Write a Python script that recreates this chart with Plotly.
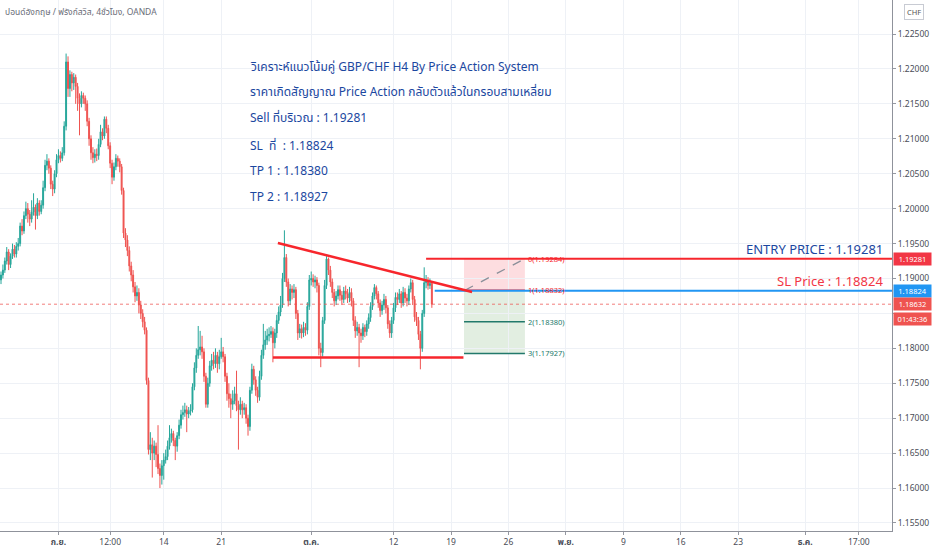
import plotly.graph_objects as go

# ---------------- data ----------------
opens = [
    1.1898, 1.1905, 1.1912, 1.1925, 1.1938, 1.1920, 1.1932, 1.1942, 1.1935, 1.1946,
    1.1950, 1.1975, 1.1968, 1.1990, 1.2000, 1.1992, 1.1985, 1.1995, 1.2002, 1.1990,
    1.2008, 1.1996, 1.2005, 1.2030, 1.2062, 1.2068, 1.2058, 1.2035, 1.2028, 1.2050,
    1.2070, 1.2076, 1.2072, 1.2080, 1.2118, 1.2210, 1.2172, 1.2192, 1.2180, 1.2188,
    1.2175, 1.2158, 1.2150, 1.2162, 1.2158, 1.2150, 1.2125, 1.2100, 1.2080, 1.2073,
    1.2078, 1.2076, 1.2092, 1.2110, 1.2104, 1.2128, 1.2115, 1.2090, 1.2065, 1.2045,
    1.2060, 1.2072, 1.2068, 1.2060, 1.2026, 1.1965, 1.1955, 1.1940, 1.1918, 1.1905,
    1.1888, 1.1875, 1.1880, 1.1862, 1.1850, 1.1838, 1.1826, 1.1754, 1.1655, 1.1662,
    1.1650, 1.1660, 1.1648, 1.1628, 1.1618, 1.1632, 1.1640, 1.1645, 1.1660, 1.1672,
    1.1678, 1.1668, 1.1660, 1.1675, 1.1690, 1.1705, 1.1708, 1.1712, 1.1706, 1.1710,
    1.1712, 1.1745, 1.1772, 1.1790, 1.1798, 1.1802, 1.1795, 1.1760, 1.1720, 1.1750,
    1.1775, 1.1783, 1.1778, 1.1790, 1.1778, 1.1788, 1.1795, 1.1788, 1.1760, 1.1735,
    1.1728, 1.1720, 1.1725, 1.1735, 1.1718, 1.1712, 1.1720, 1.1712, 1.1715, 1.1700,
    1.1688, 1.1740, 1.1770, 1.1755, 1.1740, 1.1730, 1.1760, 1.1790, 1.1805, 1.1812,
    1.1818, 1.1820, 1.1824, 1.1808, 1.1822, 1.1840, 1.1852, 1.1862, 1.1900, 1.1930,
    1.1895, 1.1868, 1.1885, 1.1880, 1.1884, 1.1850, 1.1822, 1.1828, 1.1822, 1.1830,
    1.1826, 1.1860, 1.1898, 1.1900, 1.1895, 1.1898, 1.1890, 1.1800, 1.1794, 1.1840,
    1.1890, 1.1928, 1.1912, 1.1895, 1.1880, 1.1868, 1.1875, 1.1884, 1.1876, 1.1870,
    1.1882, 1.1878, 1.1872, 1.1880, 1.1868, 1.1840, 1.1825, 1.1830, 1.1822, 1.1818,
    1.1830, 1.1824, 1.1835, 1.1844, 1.1860, 1.1875, 1.1887, 1.1878, 1.1865, 1.1854,
    1.1862, 1.1870, 1.1858, 1.1835, 1.1822, 1.1840, 1.1858, 1.1873, 1.1870, 1.1878,
    1.1865, 1.1880, 1.1872, 1.1868, 1.1885, 1.1894, 1.1870, 1.1845, 1.1840, 1.1820,
    1.1800, 1.1850, 1.1894, 1.1897, 1.1890, 1.1893,
]
highs = [
    1.1910, 1.1920, 1.1930, 1.1945, 1.1942, 1.1936, 1.1950, 1.1948, 1.1952, 1.1958,
    1.1980, 1.1985, 1.1996, 1.2010, 1.2008, 1.1998, 1.2012, 1.2022, 1.2006, 1.2015,
    1.2012, 1.2012, 1.2040, 1.2070, 1.2078, 1.2072, 1.2062, 1.2040, 1.2055, 1.2078,
    1.2085, 1.2082, 1.2088, 1.2125, 1.2222, 1.2218, 1.2198, 1.2196, 1.2194, 1.2192,
    1.2180, 1.2165, 1.2168, 1.2166, 1.2162, 1.2155, 1.2130, 1.2105, 1.2088, 1.2085,
    1.2086, 1.2100, 1.2120, 1.2115, 1.2132, 1.2132, 1.2120, 1.2095, 1.2070, 1.2066,
    1.2078, 1.2076, 1.2072, 1.2064, 1.2030, 1.1972, 1.1962, 1.1946, 1.1924, 1.1912,
    1.1895, 1.1890, 1.1886, 1.1868, 1.1856, 1.1845, 1.1830, 1.1758, 1.1680, 1.1672,
    1.1668, 1.1665, 1.1690, 1.1635, 1.1640, 1.1650, 1.1655, 1.1668, 1.1690, 1.1685,
    1.1682, 1.1672, 1.1680, 1.1698, 1.1712, 1.1718, 1.1722, 1.1718, 1.1716, 1.1720,
    1.1750, 1.1780, 1.1800, 1.1832, 1.1825, 1.1818, 1.1800, 1.1765, 1.1758, 1.1782,
    1.1792, 1.1795, 1.1800, 1.1795, 1.1798, 1.1815, 1.1802, 1.1792, 1.1765, 1.1750,
    1.1735, 1.1740, 1.1745, 1.1768, 1.1725, 1.1730, 1.1725, 1.1722, 1.1720, 1.1705,
    1.1745, 1.1778, 1.1775, 1.1760, 1.1745, 1.1768, 1.1798, 1.1835, 1.1825, 1.1828,
    1.1830, 1.1832, 1.1830, 1.1828, 1.1848, 1.1860, 1.1875, 1.1908, 1.1969, 1.1935,
    1.1900, 1.1892, 1.1890, 1.1892, 1.1888, 1.1855, 1.1835, 1.1834, 1.1838, 1.1836,
    1.1866, 1.1905, 1.1910, 1.1906, 1.1904, 1.1902, 1.1894, 1.1808, 1.1845, 1.1898,
    1.1932, 1.1930, 1.1918, 1.1900, 1.1885, 1.1882, 1.1890, 1.1890, 1.1882, 1.1888,
    1.1890, 1.1885, 1.1888, 1.1886, 1.1872, 1.1846, 1.1838, 1.1835, 1.1828, 1.1836,
    1.1834, 1.1840, 1.1850, 1.1866, 1.1880, 1.1892, 1.1890, 1.1882, 1.1870, 1.1868,
    1.1878, 1.1875, 1.1862, 1.1840, 1.1845, 1.1865, 1.1880, 1.1880, 1.1885, 1.1882,
    1.1888, 1.1886, 1.1878, 1.1890, 1.1900, 1.1898, 1.1875, 1.1852, 1.1845, 1.1825,
    1.1855, 1.1916, 1.1905, 1.1902, 1.1900, 1.1895,
]
lows = [
    1.1892, 1.1900, 1.1908, 1.1920, 1.1912, 1.1915, 1.1928, 1.1930, 1.1930, 1.1940,
    1.1946, 1.1962, 1.1964, 1.1985, 1.1980, 1.1975, 1.1980, 1.1990, 1.1970, 1.1985,
    1.1990, 1.1992, 1.2000, 1.2025, 1.2055, 1.2050, 1.2028, 1.2018, 1.2022, 1.2045,
    1.2065, 1.2066, 1.2068, 1.2076, 1.2112, 1.2160, 1.2160, 1.2168, 1.2170, 1.2150,
    1.2140, 1.2105, 1.2145, 1.2150, 1.2140, 1.2118, 1.2090, 1.2070, 1.2065, 1.2066,
    1.2068, 1.2070, 1.2088, 1.2098, 1.2100, 1.2108, 1.2085, 1.2058, 1.2035, 1.2040,
    1.2055, 1.2060, 1.2052, 1.2020, 1.1958, 1.1945, 1.1932, 1.1910, 1.1896, 1.1880,
    1.1866, 1.1868, 1.1850, 1.1842, 1.1830, 1.1820, 1.1748, 1.1648, 1.1640, 1.1615,
    1.1640, 1.1630, 1.1620, 1.1600, 1.1605, 1.1612, 1.1635, 1.1640, 1.1655, 1.1665,
    1.1660, 1.1640, 1.1652, 1.1670, 1.1685, 1.1698, 1.1702, 1.1680, 1.1700, 1.1704,
    1.1708, 1.1740, 1.1765, 1.1785, 1.1790, 1.1785, 1.1752, 1.1715, 1.1715, 1.1745,
    1.1768, 1.1770, 1.1772, 1.1765, 1.1770, 1.1785, 1.1780, 1.1752, 1.1725, 1.1715,
    1.1700, 1.1712, 1.1720, 1.1710, 1.1655, 1.1705, 1.1700, 1.1705, 1.1692, 1.1675,
    1.1682, 1.1735, 1.1748, 1.1732, 1.1722, 1.1725, 1.1755, 1.1785, 1.1798, 1.1805,
    1.1810, 1.1815, 1.1780, 1.1800, 1.1815, 1.1835, 1.1846, 1.1858, 1.1895, 1.1888,
    1.1860, 1.1862, 1.1870, 1.1872, 1.1842, 1.1812, 1.1815, 1.1814, 1.1816, 1.1818,
    1.1820, 1.1855, 1.1890, 1.1888, 1.1886, 1.1880, 1.1790, 1.1773, 1.1788, 1.1835,
    1.1885, 1.1905, 1.1888, 1.1872, 1.1860, 1.1862, 1.1870, 1.1868, 1.1862, 1.1865,
    1.1870, 1.1865, 1.1866, 1.1860, 1.1832, 1.1815, 1.1818, 1.1773, 1.1808, 1.1812,
    1.1816, 1.1818, 1.1828, 1.1838, 1.1855, 1.1870, 1.1870, 1.1858, 1.1845, 1.1848,
    1.1855, 1.1850, 1.1828, 1.1815, 1.1815, 1.1835, 1.1852, 1.1862, 1.1865, 1.1858,
    1.1860, 1.1865, 1.1860, 1.1862, 1.1880, 1.1862, 1.1838, 1.1832, 1.1812, 1.1770,
    1.1795, 1.1845, 1.1886, 1.1884, 1.1885, 1.1858,
]
closes = [
    1.1905, 1.1912, 1.1925, 1.1938, 1.1920, 1.1932, 1.1942, 1.1935, 1.1946, 1.1950,
    1.1975, 1.1968, 1.1990, 1.2000, 1.1992, 1.1985, 1.1995, 1.2002, 1.1990, 1.2008,
    1.1996, 1.2005, 1.2030, 1.2062, 1.2068, 1.2058, 1.2035, 1.2028, 1.2050, 1.2070,
    1.2076, 1.2072, 1.2080, 1.2118, 1.2210, 1.2172, 1.2192, 1.2180, 1.2188, 1.2175,
    1.2158, 1.2150, 1.2162, 1.2158, 1.2150, 1.2125, 1.2100, 1.2080, 1.2073, 1.2078,
    1.2076, 1.2092, 1.2110, 1.2104, 1.2128, 1.2115, 1.2090, 1.2065, 1.2045, 1.2060,
    1.2072, 1.2068, 1.2060, 1.2026, 1.1965, 1.1955, 1.1940, 1.1918, 1.1905, 1.1888,
    1.1875, 1.1880, 1.1862, 1.1850, 1.1838, 1.1826, 1.1754, 1.1655, 1.1662, 1.1650,
    1.1660, 1.1648, 1.1628, 1.1618, 1.1632, 1.1640, 1.1645, 1.1660, 1.1672, 1.1678,
    1.1668, 1.1660, 1.1675, 1.1690, 1.1705, 1.1708, 1.1712, 1.1706, 1.1710, 1.1712,
    1.1745, 1.1772, 1.1790, 1.1798, 1.1802, 1.1795, 1.1760, 1.1720, 1.1750, 1.1775,
    1.1783, 1.1778, 1.1790, 1.1778, 1.1788, 1.1795, 1.1788, 1.1760, 1.1735, 1.1728,
    1.1720, 1.1725, 1.1735, 1.1718, 1.1712, 1.1720, 1.1712, 1.1715, 1.1700, 1.1688,
    1.1740, 1.1770, 1.1755, 1.1740, 1.1730, 1.1760, 1.1790, 1.1805, 1.1812, 1.1818,
    1.1820, 1.1824, 1.1808, 1.1822, 1.1840, 1.1852, 1.1862, 1.1900, 1.1930, 1.1895,
    1.1868, 1.1885, 1.1880, 1.1884, 1.1850, 1.1822, 1.1828, 1.1822, 1.1830, 1.1826,
    1.1860, 1.1898, 1.1900, 1.1895, 1.1898, 1.1890, 1.1800, 1.1794, 1.1840, 1.1890,
    1.1928, 1.1912, 1.1895, 1.1880, 1.1868, 1.1875, 1.1884, 1.1876, 1.1870, 1.1882,
    1.1878, 1.1872, 1.1880, 1.1868, 1.1840, 1.1825, 1.1830, 1.1822, 1.1818, 1.1830,
    1.1824, 1.1835, 1.1844, 1.1860, 1.1875, 1.1887, 1.1878, 1.1865, 1.1854, 1.1862,
    1.1870, 1.1858, 1.1835, 1.1822, 1.1840, 1.1858, 1.1873, 1.1870, 1.1878, 1.1865,
    1.1880, 1.1872, 1.1868, 1.1885, 1.1894, 1.1870, 1.1845, 1.1840, 1.1820, 1.1800,
    1.1850, 1.1894, 1.1897, 1.1890, 1.1893, 1.18632,
]
bars = list(range(len(closes)))

# x-axis labels (bar index where each label falls) and texts
tick_bars = [30, 57, 85, 115, 162, 205, 235, 265, 295, 325, 355, 385, 420, 448]
tick_labels = ["ก.ย.", "12:00", "14", "21", "ต.ค.", "12", "19", "26",
               "พ.ย.", "9", "16", "23", "ธ.ค.", "17:00"]
month_labels = {"ก.ย.", "ต.ค.", "พ.ย.", "ธ.ค."}
price_ticks = [1.155, 1.160, 1.165, 1.170, 1.175, 1.180, 1.185, 1.190,
               1.195, 1.200, 1.205, 1.210, 1.215, 1.220, 1.225]
# 1.18500 is hidden behind the live-price labels on the reference
price_tick_labels = ["1.15500", "1.16000", "1.16500", "1.17000", "1.17500", "1.18000", "",
                     "1.19000", "1.19500", "1.20000", "1.20500", "1.21000", "1.21500",
                     "1.22000", "1.22500"]

# drawings
entry_price = 1.19281
sl_price = 1.18824
last_price = 1.18632
countdown = "01:43:36"
trend_bars = [144.6, 246.0]
trend_prices = [1.19508, 1.18807]
support_bars = [142.0, 241.5]
support_prices = [1.17870, 1.17870]
entry_from_bar = 222
sl_from_bar = 226.5
fib_bars = [241.8, 273.6]
fib_prices = [1.19284, 1.18832, 1.18380, 1.17927]
fib_labels = ["0(1.19284)", "1(1.18832)", "2(1.18380)", "3(1.17927)"]

notes = [
    "วิเคราะห์แนวโน้มคู่ GBP/CHF H4 By Price Action System",
    "ราคาเกิดสัญญาณ Price Action กลับตัวแล้วในกรอบสามเหลี่ยม",
    "Sell ที่บริเวณ : 1.19281",
    "SL  ที่  : 1.18824",
    "TP 1 : 1.18380",
    "TP 2 : 1.18927",
]
symbol_title = "ปอนด์อังกฤษ / ฟรังก์สวิส, 4ชั่วโมง, OANDA"

# ---------------- styles ----------------
UP = "#26a69a"
DOWN = "#ef5350"
DRAW_RED = "#f7262c"
BLUE = "#2196f3"
TEAL = "#22796b"
NOTE_BLUE = "#1b47a0"
GRID = "#eef1f6"
FONT = "Noto Sans, Noto Sans Thai, Roboto, sans-serif"
X_RANGE = [-0.52, 465.3]
Y_RANGE = [1.15385, 1.22987]

fig = go.Figure()

fig.add_trace(go.Candlestick(
    x=bars, open=opens, high=highs, low=lows, close=closes,
    increasing=dict(line=dict(color=UP, width=1), fillcolor=UP),
    decreasing=dict(line=dict(color=DOWN, width=1), fillcolor=DOWN),
    whiskerwidth=0, hoverinfo="skip", showlegend=False,
))

shapes = []
# last price dotted line
shapes.append(dict(type="line", xref="paper", x0=0, x1=1, yref="y",
                   y0=last_price, y1=last_price,
                   line=dict(color="rgba(239,83,80,0.75)", width=1, dash="dot")))
# position tool boxes
shapes.append(dict(type="rect", xref="x", yref="y", x0=fib_bars[0], x1=fib_bars[1],
                   y0=fib_prices[1], y1=fib_prices[0], line=dict(width=0),
                   fillcolor="rgba(242,54,69,0.17)", layer="below"))
shapes.append(dict(type="rect", xref="x", yref="y", x0=fib_bars[0], x1=fib_bars[1],
                   y0=fib_prices[3], y1=fib_prices[1], line=dict(width=0),
                   fillcolor="rgba(76,150,70,0.16)", layer="below"))
# level lines
shapes.append(dict(type="line", xref="x", yref="y", x0=fib_bars[0], x1=fib_bars[1],
                   y0=fib_prices[1], y1=fib_prices[1], line=dict(color=DRAW_RED, width=1.5)))
for lv in fib_prices[2:]:
    shapes.append(dict(type="line", xref="x", yref="y", x0=fib_bars[0], x1=fib_bars[1],
                       y0=lv, y1=lv, line=dict(color=TEAL, width=1.5)))
# dashed diagonal
shapes.append(dict(type="line", xref="x", yref="y", x0=fib_bars[0] + 0.5, x1=fib_bars[1],
                   y0=fib_prices[1], y1=fib_prices[0],
                   line=dict(color="#8a8f99", width=1.3, dash="dash")))
# entry ray and SL ray
shapes.append(dict(type="line", xref="x", yref="y", x0=entry_from_bar, x1=X_RANGE[1],
                   y0=entry_price, y1=entry_price, line=dict(color=DRAW_RED, width=2)))
shapes.append(dict(type="line", xref="x", yref="y", x0=sl_from_bar, x1=X_RANGE[1],
                   y0=sl_price, y1=sl_price, line=dict(color=BLUE, width=2)))
# triangle
shapes.append(dict(type="line", xref="x", yref="y", x0=trend_bars[0], x1=trend_bars[1],
                   y0=trend_prices[0], y1=trend_prices[1], line=dict(color=DRAW_RED, width=2.5)))
shapes.append(dict(type="line", xref="x", yref="y", x0=support_bars[0], x1=support_bars[1],
                   y0=support_prices[0], y1=support_prices[1], line=dict(color=DRAW_RED, width=2.5)))

annotations = []
note_y = [1.2204, 1.2167, 1.2130, 1.2091, 1.2054, 1.2018]
for txt, yy in zip(notes, note_y):
    annotations.append(dict(x=129, y=yy, xref="x", yref="y", text=txt, showarrow=False,
                            xanchor="left", yanchor="middle",
                            font=dict(family=FONT, size=12, color=NOTE_BLUE)))
for lab, lv, col in zip(fib_labels, fib_prices, [DRAW_RED, DRAW_RED, TEAL, TEAL]):
    annotations.append(dict(x=fib_bars[1] + 0.6, y=lv, xref="x", yref="y", text=lab,
                            showarrow=False, xanchor="left", yanchor="middle",
                            font=dict(family=FONT, size=7.5, color=col)))
annotations.append(dict(x=1, y=entry_price, xref="paper", yref="y", xanchor="right",
                        yanchor="bottom", xshift=-7, yshift=-1, showarrow=False,
                        text="ENTRY PRICE : 1.19281",
                        font=dict(family=FONT, size=13, color=NOTE_BLUE)))
annotations.append(dict(x=1, y=sl_price, xref="paper", yref="y", xanchor="right",
                        yanchor="bottom", xshift=-7, yshift=-1, showarrow=False,
                        text="SL Price : 1.18824",
                        font=dict(family=FONT, size=13, color="#f23645")))
# right-axis price boxes
for val, txt, col, shift in [(entry_price, "1.19281", "#f23645", 0),
                             (sl_price, "1.18824", BLUE, 0),
                             (last_price, "1.18632", DOWN, 0),
                             (last_price, countdown, DOWN, -15)]:
    annotations.append(dict(x=1, y=val, xref="paper", yref="y", xanchor="left",
                            yanchor="middle", xshift=1, yshift=shift, showarrow=False,
                            text=txt, bgcolor=col, borderpad=1, width=35, height=10,
                            font=dict(family=FONT, size=7.5, color="white")))
annotations.append(dict(x=1, y=1, xref="paper", yref="paper", xanchor="left", yanchor="top",
                        xshift=12, yshift=-4, showarrow=False, text="CHF",
                        bordercolor="#c8cbd3", borderwidth=1, borderpad=2, bgcolor="white",
                        font=dict(family=FONT, size=7.5, color="#555")))
annotations.append(dict(x=0, y=1, xref="paper", yref="paper", xanchor="left", yanchor="top",
                        xshift=3, yshift=-4, showarrow=False, text=symbol_title,
                        font=dict(family=FONT, size=8.5, color="#6a6d78")))

fig.update_layout(
    width=932, height=550,
    margin=dict(l=0, r=40, t=0, b=19),
    paper_bgcolor="white", plot_bgcolor="white",
    shapes=shapes, annotations=annotations,
    showlegend=False, hovermode=False,
    xaxis=dict(range=X_RANGE, rangeslider=dict(visible=False), showgrid=True,
               gridcolor=GRID, gridwidth=1, zeroline=False,
               tickvals=tick_bars,
               ticktext=[("<b>%s</b>" % t) if t in month_labels else t for t in tick_labels],
               tickfont=dict(family=FONT, size=8.5, color="#4a4d57"),
               ticks="outside", ticklen=3, tickcolor="#9598a1",
               showline=True, linecolor="#8f929b", linewidth=1, automargin=False),
    yaxis=dict(range=Y_RANGE, side="right", tickvals=price_ticks,
               ticktext=price_tick_labels, showgrid=True, gridcolor=GRID, gridwidth=1,
               zeroline=False, tickfont=dict(family=FONT, size=8.5, color="#4a4d57"),
               ticks="outside", ticklen=3, tickcolor="#9598a1",
               showline=True, linecolor="#8f929b", linewidth=1, automargin=False),
)

fig.write_html(
    "out.html",
    config={"displayModeBar": False},
    post_script="document.body.style.margin='0';document.body.style.overflow='hidden';",
)
